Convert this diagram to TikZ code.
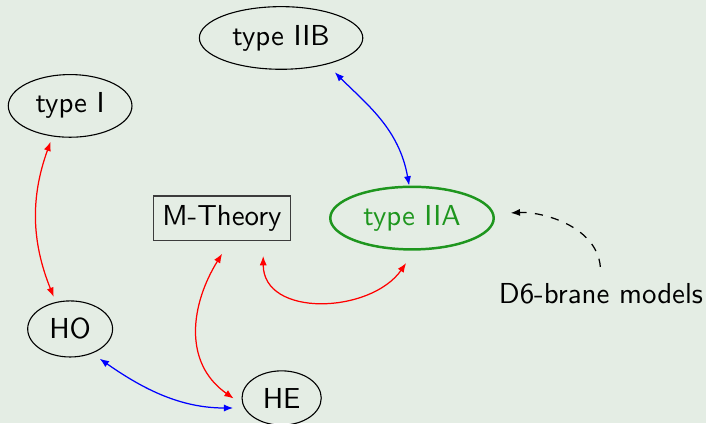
\documentclass[tikz,border=0pt]{standalone}
\usepackage{tikz}
\usetikzlibrary{arrows.meta,shapes.geometric}
\definecolor{Canvas}{HTML}{E4EDE4}
\definecolor{Leaf}{HTML}{1E961E}
\definecolor{Frame}{HTML}{3C3C3C}
\tikzset{
  every node/.append style={font=\fontsize{10.5pt}{12.6pt}\selectfont\sffamily},
  theory/.style={draw, ellipse},
  mbox/.style={draw=Frame, rectangle},
  typeA/.style={theory, draw=Leaf, text=Leaf, line width=0.9pt},
  dual/.style={<->, line width=0.45pt},
  redlink/.style={dual, red},
  bluelink/.style={dual, blue},
  hint/.style={->, dashed, line width=0.45pt},
}

\begin{document}
\begin{tikzpicture}[x=1pt, y=1pt, >={Latex[length=3.4pt,width=2.6pt]}]
  \path[use as bounding box, fill=Canvas] (0,0) rectangle (256.7,153.8);
  \node[theory] (IIB) at (102.2,140.0) {type IIB};
  \node[theory] (I) at (25.5,115.3) {type I};
  \node[mbox] (M) at (80.7,74.5) {M-Theory};
  \node[typeA] (IIA) at (149.8,74.5) {type IIA};
  \node (D6) at (218.5,47.0) {D6-brane models};
  \node[theory] (HO) at (25.5,34.2) {HO};
  \node[theory] (HE) at (102.4,9.1) {HE};

  \draw[bluelink, shorten <=4pt] (IIB.-30) to[out=-45, in=100] (IIA.95);
  \draw[redlink, shorten <=2pt, shorten >=2pt] (I.-120) to[out=-110, in=112] (HO.118);
  \draw[redlink, shorten <=5.5pt, shorten >=5.5pt] ([xshift=15pt]M.south) to[out=-90, in=-125, looseness=1.3] (IIA.-85);
  \draw[redlink, shorten <=5.5pt, shorten >=4pt] ([xshift=3pt]M.south) to[out=-122, in=145, looseness=1.15] (HE.190);
  \draw[bluelink, shorten <=3.3pt, shorten >=4pt] (HO.-48) to[out=-35, in=180] (HE.-165);
  \draw[hint, shorten <=2.5pt, shorten >=6pt] (D6.north) to[out=95, in=3] (IIA.3);
\end{tikzpicture}
\end{document}
